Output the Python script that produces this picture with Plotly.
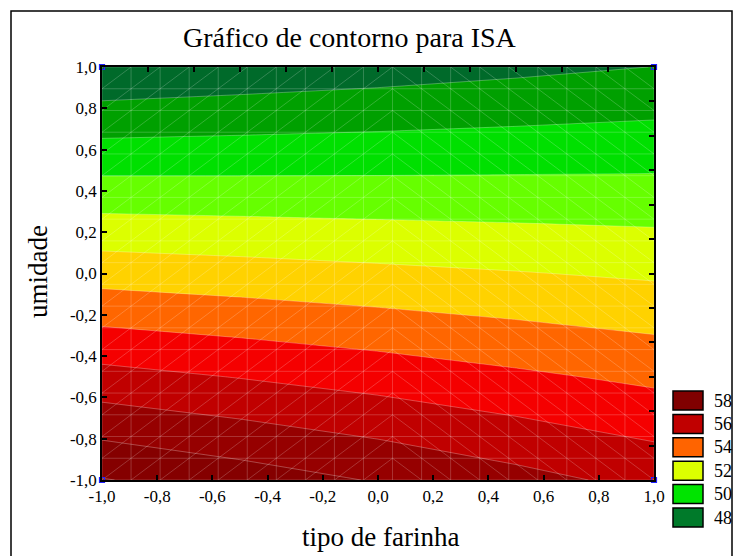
import numpy as np
import plotly.graph_objects as go

# ---------------- data ----------------
tipo_farinha = [-1.0, -0.5, 0.0, 0.5, 1.0]          # x grid
umidade = [-1.0, -0.5, 0.0, 0.5, 1.0]               # y grid
isa = [                                              # ISA values, rows = umidade
    [59.05, 58.50, 57.93, 57.32, 56.71],
    [56.33, 55.96, 55.58, 55.18, 54.79],
    [53.60, 53.42, 53.23, 53.05, 52.86],
    [50.85, 50.86, 50.88, 50.91, 50.94],
    [48.10, 48.32, 48.53, 48.77, 49.01],
]
level_start, level_end, level_step = 48, 59, 1
band_colors = [  # <48, 48-49, ..., 58-59, >59
    "#005a20", "#006a2a", "#00a000", "#00e000", "#66ff00", "#dcff00",
    "#ffd200", "#ff6600", "#f50000", "#c00000", "#960000", "#850000", "#780000",
]
legend_levels = ["58", "56", "54", "52", "50", "48"]
legend_colors = ["#800000", "#c00000", "#ff6400", "#dcff00", "#00e400", "#007a2a"]
tick_vals = [-1.0, -0.8, -0.6, -0.4, -0.2, 0.0, 0.2, 0.4, 0.6, 0.8, 1.0]
tick_text = ["-1,0", "-0,8", "-0,6", "-0,4", "-0,2", "0,0", "0,2", "0,4", "0,6", "0,8", "1,0"]
design_x = [-1, 1, -1, 1]
design_y = [-1, -1, 1, 1]

# ---------------- geometry helpers ----------------
W, H = 735, 556
L, R, T, B = 102, 654, 67, 480   # plot area in pixels
def px(xp):
    return (xp - L) / (R - L)
def py(yp):
    return (B - yp) / (B - T)

# stepped colour scale: band k is sampled at k/(n-1)
n = len(band_colors)
scale = []
for k, c in enumerate(band_colors):
    lo = max(0.0, (k - 0.5) / (n - 1))
    hi = min(1.0, (k + 0.5) / (n - 1))
    scale += [[lo, c], [hi, c]]

fig = go.Figure()
fig.add_trace(go.Contour(
    x=tipo_farinha, y=umidade, z=isa,
    contours=dict(start=level_start, end=level_end, size=level_step, coloring="fill"),
    colorscale=scale, showscale=False,
    line=dict(color="rgba(255,255,255,0.35)", width=0.8, smoothing=0),
    hoverinfo="skip",
))

# faint triangular rendering mesh
mesh = np.linspace(-1, 1, 20)
mx, my = [], []
for v in mesh:
    mx += [v, v, None]; my += [-1, 1, None]
    mx += [-1, 1, None]; my += [v, v, None]
for i in range(19):
    for j in range(19):
        if i < 10:
            mx += [mesh[i], mesh[i + 1], None]; my += [mesh[j], mesh[j + 1], None]
        else:
            mx += [mesh[i], mesh[i + 1], None]; my += [mesh[j + 1], mesh[j], None]
fig.add_trace(go.Scatter(x=mx, y=my, mode="lines",
                         line=dict(color="rgba(255,255,255,0.2)", width=1),
                         hoverinfo="skip", showlegend=False))

# design points (small blue markers at corners)
fig.add_trace(go.Scatter(x=design_x, y=design_y, mode="markers", xaxis="x2", yaxis="y2",
                         marker=dict(symbol="square-open", size=5, color="#2020ff",
                                     line=dict(width=1.2)),
                         cliponaxis=False, hoverinfo="skip", showlegend=False))

serif = "Liberation Serif, Times New Roman, serif"
axis_common = dict(range=[-1, 1], showgrid=False, zeroline=False, showline=True,
                   linecolor="black", linewidth=1.5, ticks="inside", ticklen=5,
                   tickcolor="black", tickwidth=1.5)

fig.update_layout(
    width=W, height=H, margin=dict(l=L, r=W - R, t=T, b=H - B),
    paper_bgcolor="white", plot_bgcolor="white", showlegend=False,
    font=dict(family=serif, color="black"),
    xaxis=dict(**axis_common, tickvals=tick_vals, ticktext=tick_text,
               tickfont=dict(family=serif, size=17, color="black")),
    yaxis=dict(**axis_common, tickvals=tick_vals, ticktext=tick_text,
               tickfont=dict(family=serif, size=17, color="black")),
    xaxis2=dict(**axis_common, overlaying="x", side="top", anchor="y",
                tickmode="linear", tick0=-1, dtick=1 / 6, showticklabels=False),
    yaxis2=dict(**axis_common, overlaying="y", side="right", anchor="x",
                tickmode="linear", tick0=-1, dtick=1 / 6, showticklabels=False),
)

shapes = [dict(type="rect", xref="paper", yref="paper",
               x0=px(11), x1=px(732), y0=py(11), y1=py(570),
               line=dict(color="black", width=1.5), fillcolor="rgba(0,0,0,0)", layer="above")]
annotations = [
    dict(text="Gráfico de contorno para ISA", x=px(350), y=py(38), xref="paper", yref="paper",
         showarrow=False, font=dict(family=serif, size=28, color="black"),
         xanchor="center", yanchor="middle"),
    dict(text="tipo de farinha", x=px(380), y=py(537), xref="paper", yref="paper",
         showarrow=False, font=dict(family=serif, size=27, color="black"),
         xanchor="center", yanchor="middle"),
    dict(text="umidade", x=px(38), y=py(272), xref="paper", yref="paper",
         showarrow=False, textangle=-90, font=dict(family=serif, size=27, color="black"),
         xanchor="center", yanchor="middle"),
]
for k, (lab, col) in enumerate(zip(legend_levels, legend_colors)):
    cy = 400.5 + k * 23.4
    shapes.append(dict(type="rect", xref="paper", yref="paper",
                       x0=px(673), x1=px(703), y0=py(cy + 9.5), y1=py(cy - 9.5),
                       fillcolor=col, line=dict(color="black", width=1.5)))
    annotations.append(dict(text=lab, x=px(712), y=py(cy), xref="paper", yref="paper",
                            showarrow=False, xanchor="left", yanchor="middle",
                            font=dict(family=serif, size=18, color="black")))
fig.update_layout(shapes=shapes, annotations=annotations)

fig.write_html("out.html", config={"displayModeBar": False},
               post_script="document.body.style.margin='0';")
